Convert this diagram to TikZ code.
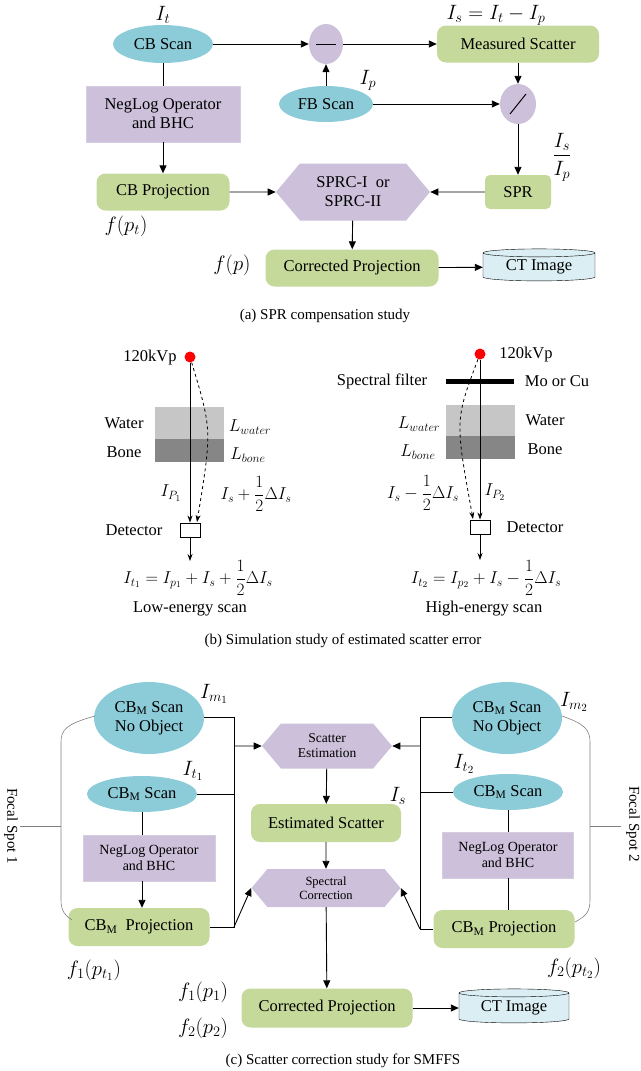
\documentclass[tikz,border=0pt]{standalone}
\usepackage{amsmath}
\usepackage{fontspec}
\setmainfont{Liberation Serif}
\usetikzlibrary{shapes.geometric,shapes.symbols,arrows.meta}
\definecolor{scanblue}{RGB}{140,203,216}
\definecolor{projgreen}{RGB}{197,217,154}
\definecolor{oplilac}{RGB}{204,192,218}
\definecolor{ctblue}{RGB}{218,238,244}
\tikzset{
	scan/.style={ellipse, fill=scanblue, inner sep=0pt},
	proj/.style={rectangle, rounded corners=9pt, fill=projgreen, inner sep=0pt},
	oper/.style={rectangle, fill=oplilac, draw=oplilac!80, align=center, inner sep=0pt},
	hexa/.style={signal, signal to=west and east, signal pointer angle=100, fill=oplilac, align=center, inner sep=0pt},
	ctimg/.style={cylinder, shape border rotate=90, aspect=0.12, draw, fill=ctblue, inner sep=0pt},
	lbl/.style={inner sep=0pt},
	big/.style={inner sep=0pt, font=\fontsize{22}{22}\selectfont},
	flow/.style={-{Triangle[length=8pt,width=7pt]}, line width=0.9pt},
	link/.style={line width=0.9pt},
	brace/.style={gray, line width=0.6pt}
}
\begin{document}
\begin{tikzpicture}[x=1pt, y=-1pt, font=\fontsize{16.5}{19}\selectfont]
	\useasboundingbox (0,0) rectangle (640,1071);
	% (a) SPR compensation study
	\node at (163,44) [scan, minimum width=100, minimum height=38] (cbscan) {CB Scan};
	\node at (163,15) [big] (it) {$I_t$};
	\node at (326,44) [ellipse, fill=oplilac, minimum width=34, minimum height=40] (minus) {};
	\draw[line width=1pt] (316,44) -- (336,44);
	\node at (518,44) [proj, minimum width=162, minimum height=37] (meas) {Measured Scatter};
	\node at (496,15) [big] (iseq) {$I_s=I_t-I_p$};
	\node at (326,104) [scan, minimum width=94, minimum height=36] (fbscan) {FB Scan};
	\node at (368,80) [big] (ip) {$I_p$};
	\node at (518,104) [ellipse, fill=oplilac, minimum width=36, minimum height=40] (divide) {};
	\draw[line width=1pt] (510,114) -- (526,94);
	\node at (163,114) [oper, minimum width=154, minimum height=56] (neglog) {NegLog Operator\\and BHC};
	\node at (163,192) [proj, minimum width=133, minimum height=37] (cbproj) {CB Projection};
	\node at (126,226) [big] (fpt) {$f(p_t)$};
	\node at (353,192) [hexa, minimum width=154, minimum height=57] (sprc) {SPRC-I\ \ or\\SPRC-II};
	\node at (518,192) [proj, rounded corners=5pt, minimum width=66, minimum height=34] (spr) {SPR};
	\node at (562,157) [big] (frac) {$\dfrac{I_s}{I_p}$};
	\node at (352,268) [proj, minimum width=173, minimum height=37] (corr) {Corrected Projection};
	\node at (232,265) [big] (fp) {$f(p)$};
	\node at (539,267) [ctimg, minimum width=112, minimum height=32] (ct) {CT Image};
	\draw[flow] (cbscan) -- (minus);
	\draw[flow] (minus) -- (meas);
	\draw[flow] (fbscan) -- (minus);
	\draw[flow] (meas) -- (divide);
	\draw[flow] (fbscan) -- (divide);
	\draw[flow] (divide) -- (spr);
	\draw[link] (cbscan) -- (neglog);
	\draw[flow] (neglog) -- (cbproj);
	\draw[flow] (cbproj) -- (sprc);
	\draw[flow] (spr) -- (sprc);
	\draw[flow] (sprc) -- (corr);
	\draw[flow] (corr) -- (ct);
	\node at (325,316) [lbl, font=\fontsize{15}{17}\selectfont] (capa) {(a) SPR compensation study};

	% (b) simulation study
	\tikzset{beam/.style={-{Stealth[length=7pt,width=5pt]}, line width=0.8pt}}
	\fill[gray!45] (155,407) rectangle (224,439);
	\fill[gray!95] (155,439) rectangle (224,462);
	\node at (190,357) [circle, fill=red, minimum size=11, inner sep=0pt] (srcl) {};
	\node at (150,358) [lbl] (kvpl) {120kVp};
	\node at (124,423) [lbl] (waterl) {Water};
	\node at (124,452) [lbl] (bonel) {Bone};
	\node at (250,427) [lbl, font=\fontsize{18}{18}\selectfont] (lwl) {$L_{water}$};
	\node at (248,455) [lbl, font=\fontsize{18}{18}\selectfont] (lbl) {$L_{bone}$};
	\node at (190,530) [rectangle, draw, line width=0.9pt, minimum width=20, minimum height=14, inner sep=0pt] (detl) {};
	\node at (134,530) [lbl] (detlabl) {Detector};
	\node at (171,493) [lbl, font=\fontsize{18}{18}\selectfont] (ipl) {$I_{P_1}$};
	\node at (256,494) [lbl, font=\fontsize{18}{18}\selectfont] (isl) {$I_s+\dfrac{1}{2}\Delta I_s$};
	\coordinate (outl) at (190,561);
	\draw[beam] (srcl) -- (detl.north);
	\draw[beam, dashed] (srcl) .. controls (212,430) .. (197,522);
	\draw[beam] (detl) -- (outl);
	\node at (198,578) [lbl, font=\fontsize{18}{18}\selectfont] (eql) {$I_{t_1}=I_{p_1}+I_s+\dfrac{1}{2}\Delta I_s$};
	\node at (190,609) [lbl] (lowl) {Low-energy scan};

	\fill[gray!45] (446,405) rectangle (515,436);
	\fill[gray!95] (446,436) rectangle (515,459);
	\node at (480,354) [circle, fill=red, minimum size=11, inner sep=0pt] (srch) {};
	\node at (526,355) [lbl] (kvph) {120kVp};
	\draw[line width=5pt] (446,381) -- (514,381);
	\node at (382,381) [lbl] (filt) {Spectral filter};
	\node at (557,381) [lbl] (mocu) {Mo or Cu};
	\node at (545,420) [lbl] (waterh) {Water};
	\node at (545,449) [lbl] (boneh) {Bone};
	\node at (419,424) [lbl, font=\fontsize{18}{18}\selectfont] (lwh) {$L_{water}$};
	\node at (418,452) [lbl, font=\fontsize{18}{18}\selectfont] (lbh) {$L_{bone}$};
	\node at (480,527) [rectangle, draw, line width=0.9pt, minimum width=20, minimum height=14, inner sep=0pt] (deth) {};
	\node at (535,527) [lbl] (detlabh) {Detector};
	\node at (495,492) [lbl, font=\fontsize{18}{18}\selectfont] (iph) {$I_{P_2}$};
	\node at (423,493) [lbl, font=\fontsize{18}{18}\selectfont] (ish) {$I_s-\dfrac{1}{2}\Delta I_s$};
	\coordinate (outh) at (480,560);
	\draw[beam] (srch) -- (deth.north);
	\draw[beam, dashed] (srch) .. controls (455,420) .. (473,519);
	\draw[beam] (deth) -- (outh);
	\node at (486,578) [lbl, font=\fontsize{18}{18}\selectfont] (eqh) {$I_{t_2}=I_{p_2}+I_s-\dfrac{1}{2}\Delta I_s$};
	\node at (484,609) [lbl] (highh) {High-energy scan};
	\node at (343,641) [lbl, font=\fontsize{15}{17}\selectfont] (capb) {(b) Simulation study of estimated scatter error};

	% (c) scatter correction study for SMFFS
	\node at (149,718) [scan, minimum width=110, minimum height=72, align=center] (noobjl) {CB$_{\mathrm{M}}$ Scan\\No Object};
	\node at (142,794) [scan, minimum width=110, minimum height=36] (cbml) {CB$_{\mathrm{M}}$ Scan};
	\node at (149,858) [oper, minimum width=132, minimum height=46, font=\fontsize{14}{16}\selectfont] (negl) {NegLog Operator\\and BHC};
	\node at (139,927) [proj, minimum width=141, minimum height=38] (projl) {CB$_{\mathrm{M}}$\ \ Projection};
	\node at (507,718) [scan, minimum width=110, minimum height=72, align=center] (noobjr) {CB$_{\mathrm{M}}$ Scan\\No Object};
	\node at (508,792) [scan, minimum width=110, minimum height=36] (cbmr) {CB$_{\mathrm{M}}$ Scan};
	\node at (508,855) [oper, minimum width=131, minimum height=46, font=\fontsize{14}{16}\selectfont] (negr) {NegLog Operator\\and BHC};
	\node at (504,929) [proj, minimum width=141, minimum height=38] (projr) {CB$_{\mathrm{M}}$ Projection};
	\node at (327,746) [hexa, minimum width=130, minimum height=45, font=\fontsize{13.5}{15}\selectfont] (scest) {Scatter\\Estimation};
	\node at (326,823) [proj, minimum width=150, minimum height=38] (estsc) {Estimated Scatter};
	\node at (326,888) [hexa, minimum width=149, minimum height=38, font=\fontsize{12.5}{14}\selectfont] (spcor) {Spectral\\Correction};
	\node at (327,1008) [proj, minimum width=171, minimum height=39] (corrc) {Corrected Projection};
	\node at (514,1008) [ctimg, minimum width=110, minimum height=34] (ctc) {CT Image};
	\node at (214,694) [big] (im1) {$I_{m_1}$};
	\node at (193,771) [big] (it1) {$I_{t_1}$};
	\node at (574,702) [big] (im2) {$I_{m_2}$};
	\node at (464,764) [big] (it2) {$I_{t_2}$};
	\node at (398,796) [big] (isc) {$I_s$};
	\node at (94,970) [big] (f1pt) {$f_1(p_{t_1})$};
	\node at (574,968) [big] (f2pt) {$f_2(p_{t_2})$};
	\node at (203,992) [big] (f1p) {$f_1(p_1)$};
	\node at (203,1028) [big] (f2p) {$f_2(p_2)$};
	% buses
	\coordinate (busl) at (234,746);
	\coordinate (busr) at (420,746);
	\draw[link] (noobjl.east |- 0,717) -| (234,927) -- (projl.east |- 0,927);
	\draw[link] (cbml) -- (cbml -| busl);
	\draw[flow] (busl) -- (scest);
	\draw[flow] (234,927) -- (spcor.west);
	\draw[link] (noobjr.west |- 0,717) -| (420,929) -- (projr.west |- 0,929);
	\draw[link] (cbmr) -- (cbmr -| busr);
	\draw[flow] (busr) -- (scest);
	\draw[flow] (420,929) -- (spcor.east);
	\draw[link] (cbml) -- (negl.north -| cbml);
	\draw[flow] (negl.south -| cbml) -- (projl.north -| cbml);
	\draw[link] (cbmr) -- (negr);
	\draw[link] (negr) -- (projr.north -| negr);
	\draw[flow] (scest) -- (estsc);
	\draw[flow] (estsc) -- (spcor);
	\draw[flow] (spcor) -- (corrc);
	\draw[flow] (corrc) -- (ctc);
	% focal spot braces
	\draw[brace] (95,716) .. controls (66,724) and (61,730) .. (61,742) -- (61,900) .. controls (61,912) and (66,916) .. (72,920);
	\draw[brace] (20,826) -- (61,826);
	\draw[brace] (562,716) .. controls (585,724) and (590,730) .. (590,742) -- (590,900) .. controls (590,912) and (586,916) .. (575,922);
	\draw[brace] (590,826) -- (621,826);
	\node at (11,826) [lbl, rotate=-90, font=\fontsize{15}{17}\selectfont] (fs1) {Focal Spot 1};
	\node at (633,824) [lbl, rotate=-90, font=\fontsize{15}{17}\selectfont] (fs2) {Focal Spot 2};
	\node at (343,1061) [lbl, font=\fontsize{15}{17}\selectfont] (capc) {(c) Scatter correction study for SMFFS};
\end{tikzpicture}
\end{document}
